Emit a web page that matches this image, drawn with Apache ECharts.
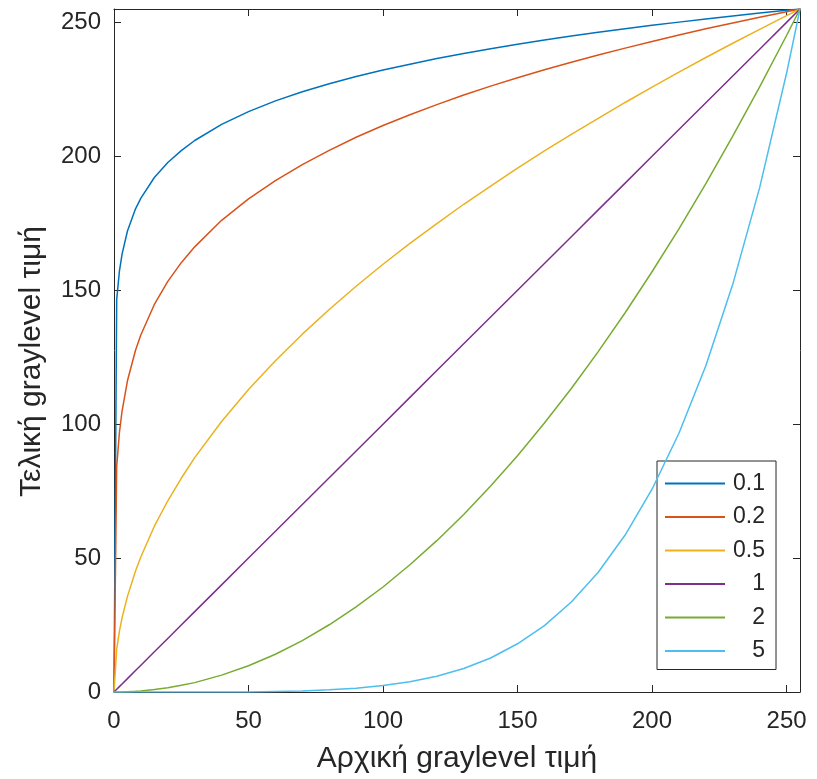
<!DOCTYPE html>
<html>
<head>
<meta charset="utf-8">
<script src="https://cdn.jsdelivr.net/npm/echarts@6/dist/echarts.min.js"></script>
<style>
  html, body { margin: 0; padding: 0; background: #fff; }
  #chart { width: 817px; height: 779px; }
</style>
</head>
<body>
<div id="chart"></div>
<script>
// input graylevels (x) where values were read
const xs = [0, 1, 2, 3, 5, 8, 10, 15, 20, 25, 30, 40, 50, 60, 70, 80, 90, 100, 110, 120,
  130, 140, 150, 160, 170, 180, 190, 200, 210, 220, 230, 240, 250, 255];

const g01 = [0, 146.5, 157.0, 163.5, 172.1, 180.4, 184.4, 192.1, 197.7, 202.1, 205.9, 211.9, 216.7,
  220.7, 224.1, 227.1, 229.8, 232.2, 234.4, 236.5, 238.4, 240.2, 241.8, 243.4, 244.9, 246.3,
  247.6, 248.9, 250.1, 251.3, 252.4, 253.5, 254.5, 255];
const g02 = [0, 84.2, 96.7, 104.9, 116.2, 127.6, 133.4, 144.7, 153.3, 160.3, 166.2, 176.1, 184.1,
  190.9, 196.9, 202.2, 207.1, 211.5, 215.5, 219.3, 222.9, 226.2, 229.3, 232.3, 235.1, 237.8,
  240.4, 242.9, 245.3, 247.6, 249.8, 251.9, 254.0, 255];
const g05 = [0, 16.0, 22.6, 27.7, 35.7, 45.2, 50.5, 61.9, 71.4, 79.8, 87.5, 101.0, 112.9,
  123.7, 133.6, 142.8, 151.5, 159.7, 167.5, 174.9, 182.1, 188.9, 195.6, 202.0, 208.2, 214.2,
  220.1, 225.8, 231.4, 236.9, 242.2, 247.4, 252.5, 255];
const g1 = [0, 1, 2, 3, 5, 8, 10, 15, 20, 25, 30, 40, 50, 60, 70, 80, 90, 100, 110, 120,
  130, 140, 150, 160, 170, 180, 190, 200, 210, 220, 230, 240, 250, 255];
const g2 = [0, 0, 0, 0, 0.1, 0.25, 0.4, 0.9, 1.6, 2.5, 3.5, 6.3, 9.8, 14.1, 19.2, 25.1, 31.8,
  39.2, 47.5, 56.5, 66.3, 76.9, 88.2, 100.4, 113.3, 127.1, 141.6, 156.9, 172.9, 189.8,
  207.5, 225.9, 245.1, 255];
const g5 = [0, 0, 0, 0, 0, 0, 0, 0, 0, 0, 0, 0, 0, 0.2, 0.4, 0.8, 1.4, 2.4, 3.8, 5.9, 8.8,
  12.7, 18.0, 24.8, 33.6, 44.7, 58.6, 75.7, 96.6, 121.8, 152.2, 188.3, 231.0, 255];

const gammaNames = ["0.1", "0.2", "0.5", "1", "2", "5"];
const gammaValues = [g01, g02, g05, g1, g2, g5];
const colors = ["#0072BD", "#D95319", "#EDB120", "#7E2F8E", "#77AC30", "#4DBEEE"];
const ticks = [0, 50, 100, 150, 200, 250];

const font = "Liberation Sans, Arial, sans-serif";
const ink = "#262626";

const chart = echarts.init(document.getElementById("chart"));

// box axes: ticks inside on every side, like a matlab figure
function axis(position, withLabels) {
  const a = {
    type: "value",
    position: position,
    min: 0,
    max: 255,
    axisLine: { show: true, onZero: false, lineStyle: { color: ink, width: 1 } },
    axisTick: { show: true, inside: true, length: 7, customValues: ticks, lineStyle: { color: ink } },
    axisLabel: { show: false },
    splitLine: { show: false },
  };
  if (withLabels) {
    a.axisLabel = {
      show: true,
      customValues: ticks,
      fontSize: 24,
      fontFamily: font,
      color: ink,
      margin: position === "bottom" ? 17 : 13,
    };
  }
  return a;
}

const xBottom = axis("bottom", true);
xBottom.name = "Αρχική graylevel τιμή";
xBottom.nameLocation = "middle";
xBottom.nameGap = 52;
xBottom.nameTextStyle = { fontSize: 30, fontFamily: font, color: ink };

const yLeft = axis("left", true);
yLeft.name = "Τελική graylevel τιμή";
yLeft.nameLocation = "middle";
yLeft.nameGap = 67;
yLeft.nameTextStyle = { fontSize: 30, fontFamily: font, color: ink, padding: [0, 22, 0, 0] };

const option = {
  animation: false,
  backgroundColor: "#fff",
  grid: { left: 114, top: 9, right: 17, bottom: 86 },
  legend: {
    orient: "vertical",
    left: 657,
    top: 461,
    padding: [11, 11, 7, 8],
    itemWidth: 60,
    itemHeight: 2,
    itemGap: 10.5,
    itemTextGap: 5,
    icon: "rect",
    borderColor: ink,
    borderWidth: 1,
    backgroundColor: "#fff",
    data: gammaNames,
    formatter: "{a|{name}}",
    textStyle: {
      rich: {
        a: { width: 35, align: "right", fontSize: 23, lineHeight: 20, fontFamily: font, color: ink },
      },
    },
  },
  xAxis: [xBottom, axis("top", false)],
  yAxis: [yLeft, axis("right", false)],
  series: gammaNames.map((name, i) => ({
    name: name,
    type: "line",
    symbol: "none",
    color: colors[i],
    lineStyle: { width: 1.5, color: colors[i] },
    data: xs.map((x, j) => [x, gammaValues[i][j]]),
    z: 2 + i,
  })),
};

chart.setOption(option);
</script>
</body>
</html>
